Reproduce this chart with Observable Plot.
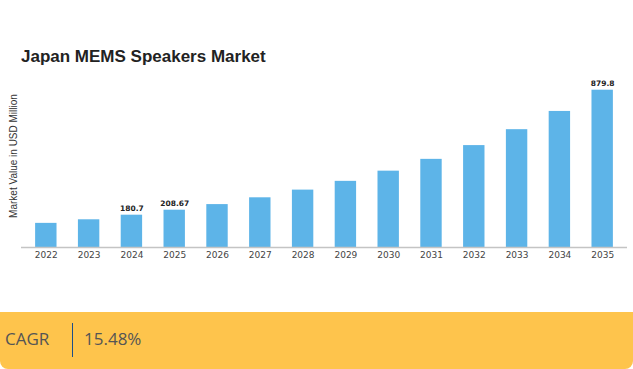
<!DOCTYPE html>
<html>
<head>
<meta charset="utf-8">
<script src="https://cdn.jsdelivr.net/npm/d3@7"></script>
<script src="https://cdn.jsdelivr.net/npm/@observablehq/plot@0.6"></script>
<style>
  html, body { margin: 0; padding: 0; background: #fff; }
  body { width: 633px; height: 369px; position: relative; overflow: hidden; }
  #title { position: absolute; left: 21px; top: 47px; font: bold 17px "Liberation Sans", Arial, sans-serif; color: #222; white-space: nowrap; }
  #chart { position: absolute; left: 0; top: 0; }
  #ylab { position: absolute; left: 8px; top: 156px; width: 0; height: 0; }
  #ylab span { position: absolute; transform: translate(-50%, -50%) rotate(-90deg); left: 5px; top: 0; font: 10px "Liberation Sans", Arial, sans-serif; color: #333; white-space: nowrap; }
  #cagr { position: absolute; left: 0; top: 312px; width: 633px; height: 57px; background: #fec44c; border-radius: 0 0 8px 8px; font-family: "Open Sans", sans-serif; color: #555; }
  #cagr .k { position: absolute; left: 5px; top: 15px; font-size: 17px; }
  #cagr .sep { position: absolute; left: 72px; top: 11px; width: 1px; height: 34px; background: #1d4e89; }
  #cagr .v { position: absolute; left: 84px; top: 15px; font-size: 17px; }
</style>
</head>
<body>
<div id="chart"></div>
<div id="title">Japan MEMS Speakers Market</div>
<div id="ylab"><span>Market Value in USD Million</span></div>
<div id="cagr"><span class="k">CAGR</span><span class="sep"></span><span class="v">15.48%</span></div>
<script>
const years = ["2022","2023","2024","2025","2026","2027","2028","2029","2030","2031","2032","2033","2034","2035"];
const values = [135, 155, 180.7, 208.67, 240, 278, 321, 370, 427, 493, 570, 659, 761, 879.8];
const labeled = ["2024", "2025", "2035"];
const labelText = ["180.7", "208.67", "879.8"];

const data = years.map((y, i) => ({year: y, value: values[i]}));
const labels = labeled.map((y, i) => ({year: y, value: values[years.indexOf(y)], text: labelText[i]}));

const chart = Plot.plot({
  width: 633,
  height: 262,
  marginTop: 89.7,
  marginBottom: 15,
  marginLeft: 21,
  marginRight: 6,
  style: {background: "transparent", overflow: "visible"},
  x: {domain: years, paddingInner: 0.5, paddingOuter: 0.33, round: false, label: null},
  y: {domain: [0, 879.8], axis: null},
  marks: [
    Plot.barY(data, {x: "year", y: "value", fill: "#5db4e8"}),
    Plot.ruleY([0], {stroke: "#c4c4c4", strokeWidth: 1.5}),
    Plot.axisX({tickSize: 0, tickPadding: 4, fontSize: 9, fontFamily: "DejaVu Sans", fill: "#444", label: null}),
    Plot.text(labels, {x: "year", y: "value", text: "text", dy: -7, fontSize: 7.5, fontWeight: "bold", fontFamily: "DejaVu Sans", fill: "#222"})
  ]
});
document.getElementById("chart").appendChild(chart);
</script>
</body>
</html>
